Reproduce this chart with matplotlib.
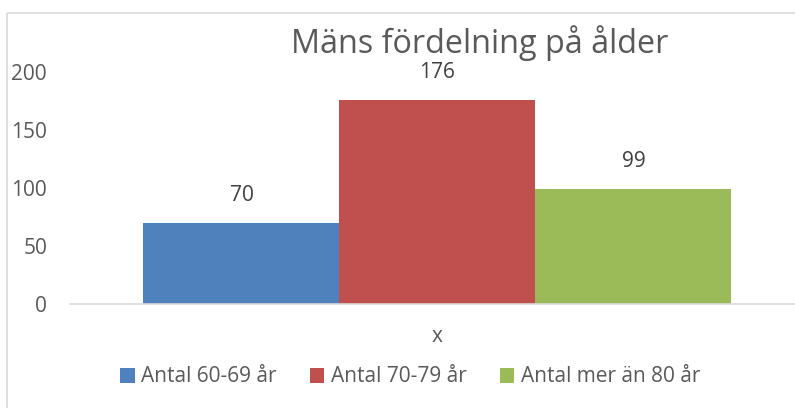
"""
Bar chart: Mäns fördelning på ålder (Excel-style clustered column).
"""
import matplotlib
matplotlib.use('Agg')
import matplotlib.pyplot as plt
from matplotlib.patches import Rectangle

# Data
categories = ['Antal 60-69 år', 'Antal 70-79 år', 'Antal mer än 80 år']
values = [70, 176, 99]
colors = ['#4F81BD', '#C0504D', '#9BBB59']
y_ticks = [0, 50, 100, 150, 200]
title = 'Mäns fördelning på ålder'
x_label = 'x'

W, H = 795, 408
TEXT = '#595959'
plt.rcParams['font.family'] = ['Open Sans', 'DejaVu Sans']

fig = plt.figure(figsize=(W / 100, H / 100), dpi=100)

# chart border (right/bottom edges fall outside the image)
fig.patches.append(Rectangle((7 / W, 1 - 13 / H), 2, -2, transform=fig.transFigure,
                             fill=False, edgecolor='#D9D9D9', linewidth=1.2))

# plot area in pixels: x 70..795, y 72 (200) .. 304 (0)
ax = fig.add_axes([70 / W, 1 - 304 / H, (W - 70) / W, (304 - 72) / H])
positions = [-1, 0, 1]
bars = ax.bar(positions, values, width=1.0, color=colors, label=categories)
for p, v in zip(positions, values):
    ax.annotate(str(v), (p, v), xytext=(0, 12), textcoords='offset points',
                ha='center', va='bottom', fontsize=15, color='#404040')

ax.set_xlim(-1.875, 1.824)
ax.set_ylim(0, 200)
ax.set_yticks(y_ticks)
ax.tick_params(axis='y', length=0, labelsize=15, labelcolor=TEXT, pad=16.5)
ax.set_xticks([])
for s in ['top', 'right', 'left']:
    ax.spines[s].set_visible(False)
ax.spines['bottom'].set_color('#D9D9D9')
ax.spines['bottom'].set_linewidth(1.2)

fig.text(480 / W, 1 - 53 / H, title, ha='center', va='baseline',
         fontsize=23.3, color=TEXT)
fig.text(437 / W, 1 - 337 / H, x_label, ha='center', va='center',
         fontsize=15, color=TEXT)

fig.legend(handles=bars, labels=categories, loc='center',
           bbox_to_anchor=(410 / W, 1 - 377 / H), ncol=3, frameon=False,
           fontsize=15, labelcolor=TEXT, handlelength=0.7, handleheight=0.7,
           handletextpad=0.3, columnspacing=1.6)

fig.savefig('out.png', dpi=100)
plt.close(fig)
